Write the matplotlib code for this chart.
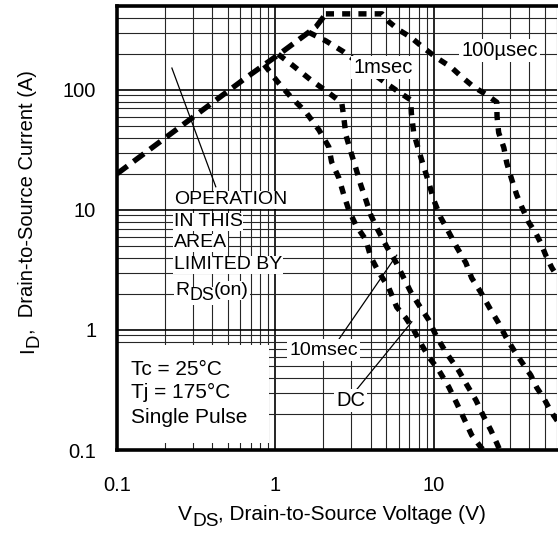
import matplotlib
matplotlib.use("Agg")
import matplotlib.pyplot as plt
from matplotlib.patches import Rectangle
from matplotlib.ticker import LogLocator, FixedLocator, FixedFormatter, NullFormatter

plt.rcParams['font.family'] = ['Liberation Sans', 'DejaVu Sans']

W, H = 558, 533

# limite R_DS(on)
rds_v = [0.1, 0.65, 1.08, 1.8, 2.08]
rds_i = [20, 126, 203, 335, 430]

# 100 usec
us100_v = [2.08, 4.7, 5.2, 6.0, 7.1, 8.6, 10.4, 12.8, 15.0, 17.8, 21.5, 24.9,
           25.0, 25.6, 27.6, 28.8, 31.0, 33.3, 35.8, 39.6, 43.9, 47.2, 50.7,
           55.4, 60]
us100_i = [430, 430, 369, 316, 276, 224, 185, 155, 128, 106, 91, 79,
           60, 44, 33, 24.6, 17.8, 13.3, 10.6, 7.9, 6.4, 5.3, 4.2,
           3.3, 2.8]

# 1 msec
ms1_v = [1.62, 2.08, 2.7, 4.97, 6.0, 7.14, 7.2, 7.45, 8.0, 8.63, 9.28, 9.97,
         11.0, 12.0, 13.9, 15.9, 17.3, 19.7, 22.8, 25.6, 28.4, 31.9, 35.8,
         40.8, 44.6, 49.3, 54.6, 60]
ms1_i = [302, 256, 207, 114, 96, 82.5, 64, 43.8, 31.6, 22.8, 16.8, 12.1,
         8.7, 7.08, 4.92, 3.62, 2.71, 2.07, 1.47, 1.14, 0.875, 0.68, 0.54,
         0.42, 0.33, 0.27, 0.21, 0.175]

# 10 msec
ms10_v = [1.04, 1.27, 1.67, 2.17, 2.62, 2.70, 2.78, 2.99, 3.21, 3.45, 3.72,
          3.99, 4.36, 5.04, 5.74, 6.45, 7.14, 8.02, 9.27, 10.4, 12.0, 14.3,
          16.1, 18.4, 20.6, 22.8, 24.9, 26.0]
ms10_i = [198, 162, 121, 94.4, 78, 58.5, 42.2, 30.4, 22.4, 16.2, 12.1,
          9.08, 7.08, 4.92, 3.69, 2.71, 2.07, 1.62, 1.21, 0.875, 0.64, 0.46,
          0.35, 0.26, 0.19, 0.147, 0.114, 0.1]

# DC
dc_v = [0.85, 1.03, 1.25, 1.55, 1.88, 2.17, 2.26, 2.51, 2.70, 2.90, 3.21,
        3.72, 3.99, 4.48, 5.19, 5.82, 6.64, 7.45, 8.37, 9.27, 10.7, 12.4,
        13.9, 15.4, 17.3, 19.7, 20.5]
dc_i = [162, 117, 87.4, 65.6, 46.4, 33.5, 25.1, 18.5, 13.3, 10.0, 7.5,
        5.62, 4.06, 3.04, 2.24, 1.55, 1.26, 1.0, 0.75, 0.596, 0.464, 0.335,
        0.246, 0.185, 0.133, 0.106, 0.1]

x_ticks = [0.1, 1, 10]
x_tick_labels = ["0.1", "1", "10"]
y_ticks = [0.1, 1, 10, 100]
y_tick_labels = ["0.1", "1", "10", "100"]

fig = plt.figure(figsize=(W / 100, H / 100), dpi=100)
ax = fig.add_axes([117 / W, 83 / H, 440.3 / W, 444 / H])
ax.set_xscale("log")
ax.set_yscale("log")
ax.set_xlim(0.1, 60)
ax.set_ylim(0.1, 500)


def rich_text(x_px, y_px, parts, size, rotation=0, **kw):
    """Texto em partes; (texto, rebaixado). O 'subscrito' fica quase do
    tamanho do texto, como no datasheet. Posição em pixels (origem no topo)."""
    r = fig.canvas.get_renderer()
    pos = 0.0
    for s, low in parts:
        fs = size * (0.92 if low else 1.0)
        drop = 0.28 * size * fig.dpi / 72 if low else 0.0
        if rotation == 90:
            px, py = x_px + drop, y_px - pos
        else:
            px, py = x_px + pos, y_px + drop
        t = fig.text(px / W, 1 - py / H, s, fontsize=fs, rotation=rotation,
                     rotation_mode="anchor", ha="left", va="baseline", **kw)
        ext = t.get_window_extent(r)
        pos += ext.height if rotation == 90 else ext.width


# grade
ax.xaxis.set_major_locator(FixedLocator(x_ticks))
ax.xaxis.set_major_formatter(FixedFormatter(x_tick_labels))
ax.yaxis.set_major_locator(FixedLocator(y_ticks))
ax.yaxis.set_major_formatter(FixedFormatter(y_tick_labels))
ax.xaxis.set_minor_locator(LogLocator(base=10, subs=range(2, 10)))
ax.yaxis.set_minor_locator(LogLocator(base=10, subs=range(2, 10)))
ax.xaxis.set_minor_formatter(NullFormatter())
ax.yaxis.set_minor_formatter(NullFormatter())
ax.grid(which="major", color="black", lw=1.2)
ax.grid(which="minor", color="0.15", lw=0.8)
ax.tick_params(which="both", direction="in", length=0, labelsize=14.5)
ax.tick_params(axis="x", pad=19)
ax.tick_params(axis="y", pad=15)

for s in ("left", "bottom", "top"):
    ax.spines[s].set_linewidth(2.6)
ax.spines["right"].set_visible(False)

lw = 3.9
ax.plot(rds_v, rds_i, color="black", lw=lw, dashes=(2.4, 1.4), zorder=4)
for v, i in ((us100_v, us100_i), (ms1_v, ms1_i),
             (ms10_v, ms10_i), (dc_v, dc_i)):
    ax.plot(v, i, color="black", lw=lw, dashes=(1.5, 1.5), zorder=4)

# quadro de condições
ax.add_patch(Rectangle((0.1, 0.1144), 0.908 - 0.1, 0.75 - 0.1144,
                       facecolor="white", edgecolor="none", zorder=2))
for yy, txt in zip([0.464, 0.304, 0.188],
                   ["Tc = 25°C", "Tj = 175°C", "Single Pulse"]):
    ax.text(0.122, yy, txt, fontsize=15, ha="left", va="center", zorder=5)

box = dict(facecolor="white", edgecolor="none", pad=1.5)
ax.text(4.75, 153, "1msec", fontsize=14.5, ha="center", va="center",
        bbox=box, zorder=6)
ax.text(26.0, 211, "100µsec", fontsize=14.5, ha="center", va="center",
        bbox=box, zorder=6)
ax.text(2.02, 0.68, "10msec", fontsize=14, ha="center", va="center",
        bbox=box, zorder=6)
ax.text(2.99, 0.26, "DC", fontsize=14.5, ha="center", va="center",
        bbox=box, zorder=6)
ax.plot([2.47, 5.82], [0.81, 4.2], color="black", lw=0.9, zorder=5)
ax.plot([3.26, 7.25], [0.32, 1.17], color="black", lw=0.9, zorder=5)

# área limitada por RDS(on)
op_lines = ["OPERATION", "IN THIS", "AREA", "LIMITED BY"]
for yy, txt in zip([12.1, 7.94, 5.31, 3.48], op_lines):
    ax.text(0.228, yy, txt, fontsize=14, ha="left", va="center",
            bbox=dict(facecolor="white", edgecolor="none", pad=0.5), zorder=6)
rich_text(175, 295, [("R", False), ("DS", True), ("(on)", False)], 14,
          bbox=dict(facecolor="white", edgecolor="none", pad=0.5))
ax.plot([0.222, 0.42], [152, 15.6], color="black", lw=0.9, zorder=5)

# rótulos dos eixos
rich_text(178, 520, [("V", False), ("DS", True),
                     (", Drain-to-Source Voltage (V)", False)], 15)
rich_text(33, 353, [("I", False), ("D", True),
                    (",  Drain-to-Source Current (A)", False)], 14.5,
          rotation=90)

fig.savefig("out.png", dpi=100)
